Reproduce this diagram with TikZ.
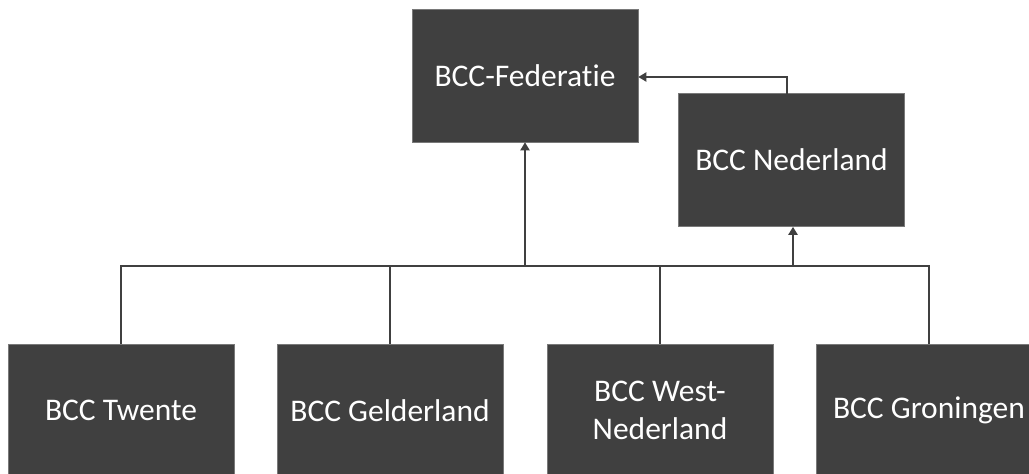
\documentclass[tikz,border=0pt]{standalone}
\usepackage{fontspec}
\setmainfont{Carlito}[Ligatures={NoCommon}]
\usetikzlibrary{arrows.meta}
\definecolor{boxgray}{HTML}{404040}
\begin{document}
\begin{tikzpicture}[x=1pt,y=-1pt,
  orgbox/.style={rectangle,fill=boxgray,draw=boxgray!70!white,line width=0.6pt,text=white,
    minimum width=226pt,minimum height=133pt,inner sep=0pt,align=center,
    font=\fontsize{31.5}{38.5}\selectfont},
  link/.style={draw=boxgray,line width=2pt},
  arr/.style={link,-{Triangle[length=8pt,width=9pt]}}]
\useasboundingbox (0,0) rectangle (1029,474);
\fill[white] (0,0) rectangle (1029,474);
\node[orgbox] (fed) at (525,75.5) {BCC-Federatie};
\node[orgbox] (ned) at (791.5,160) {BCC Nederland};
\node[orgbox] (tw) at (121,410.5) {BCC Twente};
\node[orgbox] (ge) at (390,410.5) {BCC Gelderland};
\node[orgbox] (we) at (660,410.5) {BCC West-\\Nederland};
\node[orgbox] (gr) at (929,410.5) {BCC Groningen};
\coordinate (j1) at (525,266);
\coordinate (j2) at (793,266);
\coordinate (nt) at (787,93.5);
\draw[link,line join=miter] (tw.north) -- (tw.north |- j1) -- (gr.north |- j1) -- (gr.north);
\draw[link] (ge.north) -- (ge.north |- j1);
\draw[link] (we.north) -- (we.north |- j1);
\draw[arr] (j1) -- (j1 |- fed.south);
\draw[arr] (j2) -- (j2 |- ned.south);
\draw[arr] (nt) -- (787,77) -- (fed.east |- 0,77);
\end{tikzpicture}
\end{document}
